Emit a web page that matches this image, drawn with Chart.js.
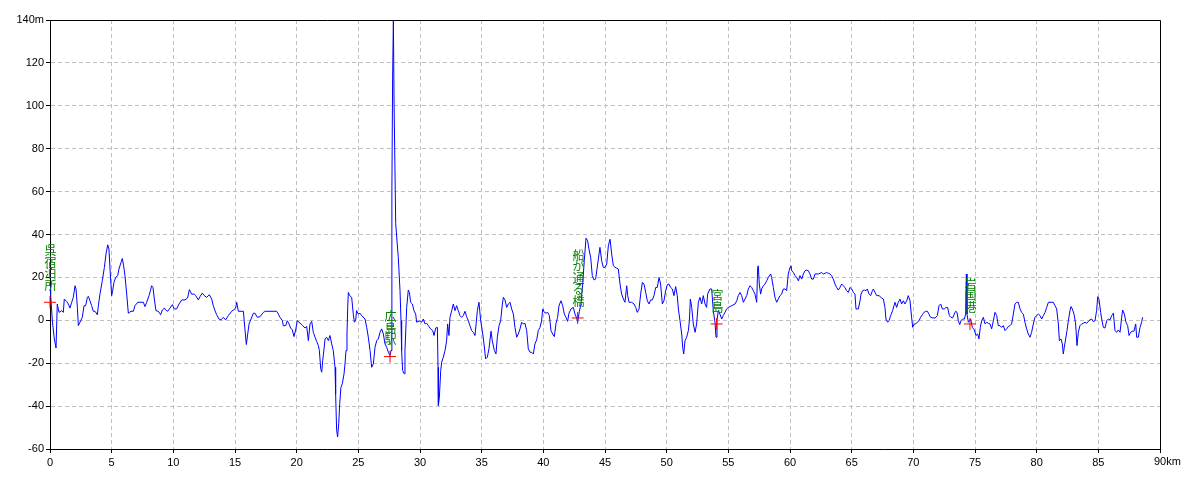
<!DOCTYPE html>
<html><head><meta charset="utf-8">
<script src="https://cdn.jsdelivr.net/npm/chart.js@4/dist/chart.umd.min.js"></script>
<style>html,body{margin:0;padding:0;background:#fff}#wrap{width:1200px;height:480px}canvas{display:block}</style>
</head><body><div id="wrap"><canvas id="c" width="1200" height="480"></canvas></div>
<script>
const distKm = [0,0.05,0.19,0.35,0.49,0.59,0.73,0.95,1.08,1.16,1.35,1.49,1.62,1.76,1.89,2.03,2.11,2.22,2.30,2.43,2.62,2.76,2.89,3.03,3.11,3.24,3.38,3.51,3.65,3.84,3.92,4.05,4.24,4.41,4.54,4.68,4.78,4.89,5.00,5.08,5.19,5.32,5.49,5.59,5.76,5.86,5.97,6.08,6.22,6.35,6.57,6.76,6.89,7.11,7.57,7.70,7.84,8.03,8.14,8.24,8.35,8.46,8.59,8.78,8.97,9.11,9.27,9.38,9.54,9.73,9.92,10.08,10.27,10.46,10.68,10.95,11.16,11.30,11.49,11.70,11.81,12.03,12.16,12.35,12.51,12.70,12.92,13.11,13.24,13.38,13.51,13.70,13.86,14.05,14.24,14.46,14.73,14.92,15.05,15.14,15.27,15.68,15.81,15.92,16.03,16.14,16.30,16.49,16.62,16.81,17.03,17.30,17.45,18.38,18.51,18.65,18.84,18.92,19.11,19.24,19.38,19.51,19.65,19.78,19.92,20.05,20.19,20.35,20.49,20.68,20.81,20.95,21.08,21.22,21.35,21.49,21.62,21.76,21.84,21.95,22.03,22.11,22.22,22.30,22.43,22.57,22.70,22.84,22.97,23.11,23.16,23.24,23.32,23.41,23.49,23.59,23.70,23.84,23.92,24.00,24.08,24.14,24.19,24.30,24.46,24.59,24.68,24.78,24.86,25.00,25.14,25.27,25.54,25.68,25.81,25.95,26.08,26.22,26.35,26.49,26.62,26.76,26.89,27.03,27.16,27.30,27.43,27.57,27.65,27.72,27.78,27.84,27.90,28.03,28.24,28.38,28.46,28.51,28.59,28.73,28.78,28.92,29.05,29.14,29.24,29.38,29.51,29.65,29.73,30.00,30.14,30.27,30.41,30.54,30.68,30.86,31.03,31.14,31.27,31.41,31.46,31.49,31.57,31.68,31.76,31.89,32.03,32.16,32.24,32.35,32.43,32.57,32.70,32.84,32.97,33.11,33.24,33.38,33.51,33.65,33.78,33.92,34.05,34.19,34.32,34.46,34.65,34.78,34.92,35.05,35.19,35.32,35.46,35.59,35.76,35.86,36.03,36.16,36.27,36.41,36.54,36.68,36.76,36.89,37.03,37.16,37.30,37.43,37.57,37.70,37.84,37.97,38.11,38.24,38.38,38.51,38.65,38.78,38.92,39.05,39.19,39.32,39.46,39.59,39.73,39.86,39.95,40.08,40.22,40.35,40.49,40.62,40.76,40.89,41.03,41.16,41.27,41.43,41.57,41.70,41.84,41.97,42.08,42.24,42.43,42.57,42.70,42.78,42.92,43.05,43.19,43.32,43.46,43.59,43.70,43.84,43.97,44.11,44.24,44.35,44.46,44.59,44.73,44.86,45.00,45.14,45.27,45.41,45.54,45.68,45.81,45.95,46.08,46.22,46.35,46.49,46.62,46.76,46.84,46.95,47.16,47.35,47.49,47.62,47.76,47.89,48.03,48.16,48.30,48.43,48.57,48.70,48.84,48.97,49.11,49.24,49.38,49.51,49.65,49.78,49.92,50.05,50.19,50.32,50.46,50.59,50.73,50.86,50.95,51.08,51.22,51.30,51.38,51.49,51.62,51.76,51.84,51.92,52.03,52.16,52.30,52.43,52.57,52.70,52.84,52.97,53.11,53.24,53.32,53.51,53.65,53.78,53.92,54.00,54.08,54.19,54.32,54.46,54.59,54.73,54.86,55.00,55.27,55.54,55.68,55.81,55.95,56.08,56.22,56.35,56.49,56.62,56.76,56.89,57.03,57.16,57.30,57.38,57.43,57.51,57.62,57.70,57.84,57.97,58.11,58.24,58.43,58.51,58.65,58.78,58.92,59.05,59.19,59.32,59.46,59.59,59.73,59.86,60.00,60.08,60.14,60.27,60.41,60.54,60.68,60.81,60.95,61.08,61.22,61.35,61.49,61.62,61.76,61.89,62.03,62.30,62.43,62.57,62.70,62.84,62.97,63.11,63.24,63.38,63.51,63.65,63.78,63.92,64.05,64.19,64.32,64.46,64.59,64.73,64.86,65.00,65.14,65.27,65.35,65.54,65.68,65.76,65.89,66.03,66.16,66.27,66.41,66.54,66.68,66.76,66.89,67.03,67.22,67.43,67.57,67.70,67.78,67.92,68.03,68.16,68.32,68.43,68.51,68.65,68.78,68.92,69.05,69.19,69.32,69.46,69.59,69.73,69.86,69.95,70.08,70.19,70.32,70.46,70.59,70.73,70.86,71.00,71.14,71.27,71.35,71.54,71.76,71.95,72.08,72.22,72.35,72.51,72.65,72.78,72.92,73.05,73.19,73.32,73.43,73.54,73.65,73.76,73.86,74.00,74.14,74.24,74.30,74.35,74.46,74.65,74.78,74.95,75.08,75.22,75.32,75.43,75.54,75.68,75.81,75.95,76.08,76.22,76.35,76.49,76.62,76.76,76.89,77.03,77.16,77.30,77.43,77.57,77.70,77.84,77.97,78.11,78.24,78.38,78.51,78.65,78.78,78.92,79.05,79.19,79.32,79.46,79.59,79.73,79.86,80.00,80.14,80.27,80.41,80.54,80.68,80.81,80.95,81.35,81.49,81.62,81.76,81.84,81.97,82.08,82.16,82.24,82.35,82.46,82.57,82.70,82.78,82.89,83.03,83.16,83.27,83.38,83.51,83.65,83.78,83.92,84.05,84.19,84.32,84.46,84.59,84.73,84.86,84.95,85.05,85.19,85.27,85.41,85.54,85.68,85.81,85.95,86.08,86.22,86.35,86.49,86.62,86.76,86.89,86.97,87.11,87.24,87.38,87.49,87.62,87.76,87.89,88.03,88.11,88.24,88.38,88.51,88.59];
const elevation = [16,12.2,-0.2,-8.7,-12.9,7.6,3.7,4.5,3.7,9.9,8.8,7.6,5.7,8.4,10.7,16.1,14.6,6.0,-2.5,-0.9,1.4,6.8,6.8,10.7,11.2,9.1,6.8,4.2,4.2,2.6,6.8,12.2,18.4,24.7,30.9,35.2,33.2,21.6,11.5,13.8,17.7,20.0,20.8,23.9,27.0,28.8,25.4,20.8,12.2,3.3,4.2,4.2,6.8,8.4,8.4,6.4,8.4,11.5,13.8,16.1,15.3,9.9,4.5,4.2,2.6,4.8,5.7,4.8,4.2,5.7,7.3,5.3,5.3,7.6,9.5,9.5,10.4,14.3,12.2,12.2,11.5,9.5,11.0,12.7,11.5,10.7,11.9,9.9,6.8,4.5,2.6,0.6,0.2,1.4,0.2,2.2,4.2,5.0,5.7,8.4,4.2,4.2,-4.5,-11.3,-6.4,-1.7,0.6,3.3,3.3,1.4,1.7,3.7,4.2,4.2,2.9,1.4,-0.2,-2.5,-2.5,-0.2,-1.7,-3.6,-4.5,-7.6,-4.5,-0.2,-0.9,-1.7,-2.5,-3.6,-2.9,-9.5,-1.7,-0.5,-5.6,-7.9,-9.8,-11.8,-14.1,-22.6,-24.2,-18.8,-13.3,-8.7,-7.9,-9.5,-7.1,-11.0,-14.1,-21.9,-34.3,-51.3,-54.4,-48.2,-38.9,-31.2,-29.6,-25.0,-20.3,-14.1,-6.4,6.0,13.0,11.5,10.7,2.9,-0.9,-0.2,4.5,2.9,3.3,2.2,0.6,-3.3,-7.9,-14.1,-21.9,-20.3,-12.6,-9.5,-8.7,-5.6,-4.0,-6.4,-11.0,-12.6,-14.9,-16.4,-14.1,60,113,140,100,45,29.3,13.8,-0.2,-14.1,-23.4,-25.0,-14.1,6.0,14.1,13.0,8.4,7.6,4.5,2.9,-0.9,-0.2,-0.9,0.6,-1.7,-1.4,-2.5,-4.0,-4.8,-7.1,-3.6,-3.3,-21.9,-39.7,-35.8,-23.4,-19.5,-17.2,-14.1,-9.5,-1.7,-7.1,1.4,4.5,7.6,4.5,6.8,4.5,2.2,1.4,2.2,4.2,1.7,-0.2,-2.5,-4.8,-5.6,-7.1,4.5,8.4,-0.2,-4.8,-11.0,-18.0,-17.2,-13.3,-5.1,-9.5,-14.1,-15.7,-7.9,-2.5,-0.2,7.6,10.7,9.5,6.0,7.6,8.4,5.3,2.9,-3.3,-7.9,-6.4,-4.0,-0.9,-1.7,-1.4,-4.8,-13.3,-14.9,-14.9,-15.7,-11.0,-9.1,-4.8,-3.3,-0.2,5.3,3.7,3.3,3.7,2.2,-4.8,-6.4,-7.6,-1.4,1.4,6.8,9.1,6.8,2.9,1.4,-0.5,3.3,5.3,6.0,2.9,1.1,-0.9,4.2,7.6,16.9,27.8,38.3,37.1,33.2,29.3,20.8,18.8,19.2,23.9,28.5,34.0,27.8,24.7,24.7,26.2,34.7,37.8,30.9,25.4,24.7,24.3,23.9,16.9,12.2,9.9,8.4,16.1,11.5,8.4,8.4,7.6,6.0,3.7,5.3,12.2,17.7,16.9,13.0,9.1,7.6,9.5,9.5,11.5,15.3,15.3,20.0,16.9,7.6,9.1,13.8,16.6,16.9,15.3,14.6,11.5,15.7,11.5,5.3,-0.2,-6.4,-12.6,-15.7,-9.5,-7.9,-4.8,-0.2,9.9,6.0,-1.7,-5.6,-1.7,8.4,10.7,7.6,11.5,7.6,6.0,12.2,14.6,14.6,4.5,-0.9,-7.9,-0.2,4.5,2.9,0.6,2.2,3.7,5.3,6.0,6.8,7.6,9.1,11.5,13.0,11.5,8.4,9.9,11.5,14.6,16.1,15.3,13.8,12.2,8.4,24.7,25.4,16.9,12.2,14.6,16.1,16.9,18.4,20.0,21.6,20.0,15.3,10.7,8.4,9.9,11.5,12.2,14.6,14.6,13.8,21.6,24.7,25.4,23.1,22.3,20.8,20.0,18.4,20.8,19.2,21.6,23.1,23.4,23.1,21.6,19.2,19.2,21.6,21.6,21.9,22.3,21.6,21.9,22.3,21.9,21.6,20.8,19.2,16.9,15.3,14.1,15.3,16.9,16.1,15.3,13.8,13.0,15.3,14.6,13.0,12.2,5.3,5.3,9.1,12.2,13.8,14.1,13.8,14.6,12.2,11.5,13.8,14.6,13.0,11.5,11.5,10.4,9.9,6.0,0.6,-0.9,-0.2,2.2,4.5,6.8,8.4,6.0,8.4,9.9,7.6,9.1,7.6,9.1,11.5,9.1,1.4,-3.3,-1.7,-1.7,-0.9,-0.2,1.4,2.6,3.7,4.2,4.2,2.9,1.7,1.1,1.1,2.2,6.8,7.6,5.3,5.3,6.0,6.0,2.2,1.4,1.1,2.9,4.2,3.7,-0.2,-2.0,-0.2,0.6,0.6,2.9,21.6,2.9,-0.9,0.6,-3.3,-4.5,-7.1,-6.4,-8.7,-3.3,-0.2,1.4,-1.7,-0.9,-1.4,-1.7,-4.0,-0.2,3.7,2.2,-2.5,-2.5,-3.3,-2.5,-4.8,-4.0,-2.9,-2.5,-1.7,2.9,7.6,8.4,8.4,5.3,3.7,2.9,-0.9,-4.0,-6.4,-7.9,-5.6,-1.7,1.4,2.2,2.9,2.2,0.6,2.2,3.7,6.0,8.4,8.4,6.8,5.3,-1.7,-9.5,-8.7,-11.0,-15.7,-12.6,-8.7,-4.8,-0.2,4.5,6.4,5.3,2.9,-1.7,-11.8,-5.6,-2.5,-1.7,-1.4,-0.9,-1.4,-0.5,0.2,0.6,-0.6,-0.2,4.5,11.0,9.9,3.7,0.6,-3.3,-3.6,-0.2,0.6,0.2,2.2,3.3,-4.8,-5.6,-4.5,-5.6,1.4,4.8,2.9,-0.9,-2.5,-7.1,-5.6,-5.1,-5.1,-1.7,-7.9,-7.9,-3.3,-0.9,1.4];

const stationNames = ["呉宿泊所","広島駅","船が通る橋","宮島","岩国港"];
const stationKm = [0, 27.57, 42.78, 54.05, 74.59];
const stationElev = [8.4, -16.9, 1.1, -1.7, -1.7];

const xTicksMin = 0, xTicksMax = 90, xStep = 5;
const yTicksMin = -60, yTicksMax = 140, yStep = 20;

const linePts = distKm.map((k, i) => ({x: k, y: elevation[i]}));
const stationPts = stationKm.map((k, i) => ({x: k, y: stationElev[i]}));

const tickFont = {family: '"Liberation Sans", Arial, sans-serif', size: 11};

const overlay = {
  id: 'overlay',
  afterDatasetsDraw(chart) {
    const {ctx, scales: {x, y}} = chart;
    ctx.save();
    ctx.fillStyle = '#008000';
    ctx.font = '12px "Noto Sans CJK JP"';
    ctx.textAlign = 'center';
    ctx.textBaseline = 'bottom';
    stationNames.forEach((name, i) => {
      const px = Math.round(x.getPixelForValue(stationKm[i])) + 0.5;
      const py = y.getPixelForValue(stationElev[i]);
      const chars = Array.from(name);
      let by = py - 11;
      for (let j = chars.length - 1; j >= 0; j--) {
        ctx.fillText(chars[j], px, by);
        by -= 11.5;
      }
    });
    ctx.restore();
  },
  afterDraw(chart) {
    const {ctx, chartArea: a, scales: {x}} = chart;
    ctx.save();
    ctx.strokeStyle = '#000';
    ctx.lineWidth = 1;
    ctx.beginPath();
    ctx.moveTo(Math.round(a.left), Math.round(a.top) + 0.5);
    ctx.lineTo(Math.round(a.right) + 0.5, Math.round(a.top) + 0.5);
    ctx.lineTo(Math.round(a.right) + 0.5, Math.round(a.bottom));
    ctx.stroke();
    ctx.fillStyle = '#000';
    ctx.font = '11px "Liberation Sans", Arial, sans-serif';
    ctx.textAlign = 'left';
    ctx.textBaseline = 'top';
    ctx.fillText(xTicksMax + 'km', x.getPixelForValue(xTicksMax) - 6, a.bottom + 7);
    ctx.restore();
  }
};

new Chart(document.getElementById('c'), {
  type: 'line',
  data: {
    datasets: [
      {type: 'scatter', data: stationPts, pointStyle: 'cross', pointRadius: 6, pointBorderColor: '#ff0000', pointBorderWidth: 1, borderColor: '#ff0000', showLine: false, clip: false},
      {data: linePts, borderColor: '#0000ff', borderWidth: 1, pointRadius: 0, tension: 0, fill: false}
    ]
  },
  options: {
    responsive: false, animation: false, devicePixelRatio: 1,
    layout: {padding: {top: 20, right: 40, left: 0, bottom: 0}},
    plugins: {legend: {display: false}, tooltip: {enabled: false}},
    scales: {
      x: {
        type: 'linear', min: xTicksMin, max: xTicksMax,
        afterFit(s) { s.height = 31; },
        ticks: {stepSize: xStep, color: '#000', font: tickFont, padding: 3, maxRotation: 0, autoSkip: false,
          callback: v => v === xTicksMax ? '' : String(v)},
        grid: {color: '#c0c0c0', tickColor: '#000', tickLength: 4, tickBorderDash: []},
        border: {color: '#000', width: 1, dash: [4, 3]}
      },
      y: {
        type: 'linear', min: yTicksMin, max: yTicksMax,
        afterFit(s) { s.width = 50; },
        ticks: {stepSize: yStep, color: '#000', font: tickFont, padding: 2,
          callback: v => v === yTicksMax ? v + 'm' : String(v)},
        grid: {color: '#c0c0c0', tickColor: '#000', tickLength: 4, tickBorderDash: []},
        border: {color: '#000', width: 1, dash: [4, 3]}
      }
    }
  },
  plugins: [overlay]
});
</script>
</body></html>
